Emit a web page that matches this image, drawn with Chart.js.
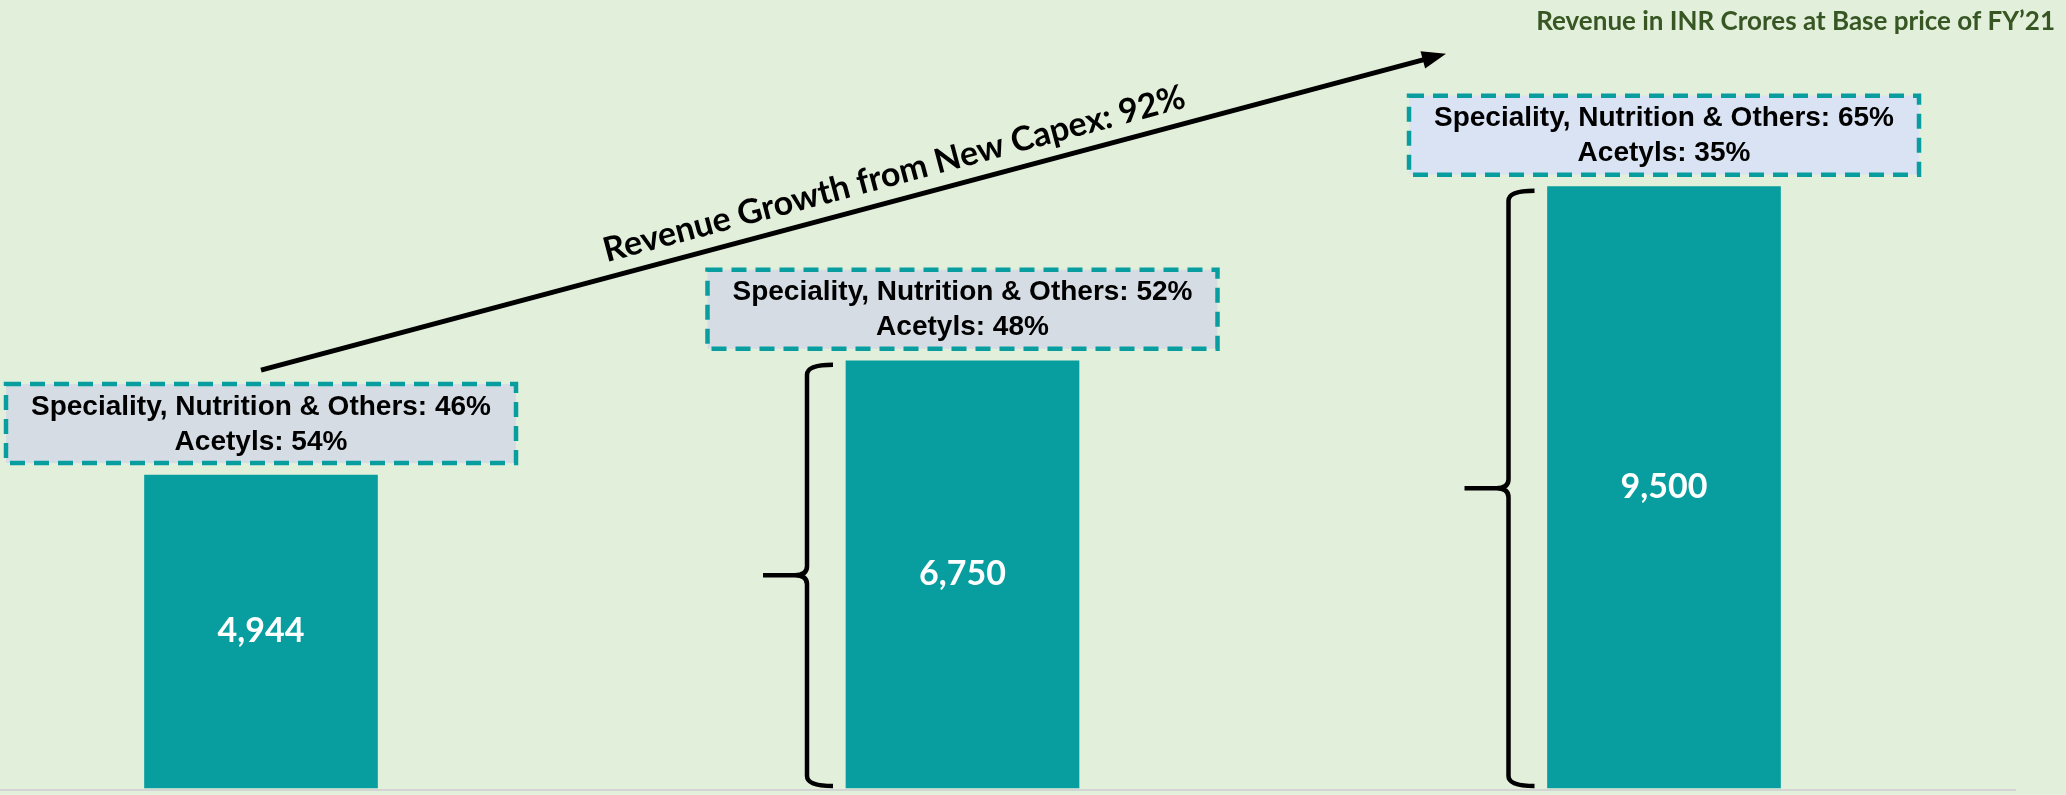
<!DOCTYPE html>
<html>
<head>
<meta charset="utf-8">
<title>Revenue Growth from New Capex</title>
<script src="https://cdn.jsdelivr.net/npm/chart.js@4.4.1/dist/chart.umd.min.js"></script>
<style>
  html, body { margin: 0; padding: 0; background: #E2EFDA; overflow: hidden; }
  #wrap { width: 2066px; height: 795px; position: relative; }
</style>
</head>
<body>
<div id="wrap"><canvas id="revenueChart"></canvas></div>
<script>
// Chart data
const stages = ['Stage 1', 'Stage 2', 'Stage 3'];
const revenue = [4944, 6750, 9500];
const specialityShare = [46, 52, 65];
const acetylsShare = [54, 48, 35];
const yRange = [0, 10000];
const unitNote = 'Revenue in INR Crores at Base price of FY’21';
const growthNote = 'Revenue Growth from New Capex: 92%';

// Styles
const TEAL = '#089E9F';
const BOX_FILLS = ['#D6DCE4', '#D6DCE4', '#DAE3F3'];
const BOX_W = 510, BOX_H = 79, BOX_GAP = 12;

function boxFor(bar) {
    return { x: bar.x - BOX_W / 2, y: bar.y - BOX_GAP - BOX_H, w: BOX_W, h: BOX_H };
}

// Curly brace pointing left, spanning yt..yb
function drawBrace(ctx, x0, yt, yb) {
    const xr = x0 + 26, ym = (yt + yb) / 2, tip = 44;
    ctx.beginPath();
    ctx.moveTo(xr, yt);
    ctx.quadraticCurveTo(x0, yt, x0, yt + 10);
    ctx.lineTo(x0, ym - 9);
    ctx.quadraticCurveTo(x0, ym, x0 - 12, ym);
    ctx.lineTo(x0 - tip, ym);
    ctx.moveTo(x0 - 12, ym);
    ctx.quadraticCurveTo(x0, ym, x0, ym + 9);
    ctx.lineTo(x0, yb - 10);
    ctx.quadraticCurveTo(x0, yb, xr, yb);
    ctx.stroke();
}

const annotations = {
    id: 'annotations',
    beforeDatasetsDraw(chart) {
        const ctx = chart.ctx;
        const bars = chart.getDatasetMeta(0).data;
        ctx.save();
        ctx.strokeStyle = '#D4D4D4';
        ctx.lineWidth = 2;
        ctx.beginPath();
        ctx.moveTo(0, bars[0].base + 2);
        ctx.lineTo(2016, bars[0].base + 2);
        ctx.stroke();
        ctx.restore();
    },
    afterDatasetsDraw(chart) {
        const ctx = chart.ctx;
        const bars = chart.getDatasetMeta(0).data;
        ctx.save();

        bars.forEach((bar, i) => {
            // value inside bar
            ctx.fillStyle = '#FFFFFF';
            ctx.font = 'bold 34px Lato, "Open Sans", sans-serif';
            ctx.textAlign = 'center';
            ctx.textBaseline = 'middle';
            ctx.fillText(revenue[i].toLocaleString('en-US'), bar.x, (bar.y + bar.base) / 2);

            // mix box
            const b = boxFor(bar);
            ctx.fillStyle = BOX_FILLS[i];
            ctx.fillRect(b.x, b.y, b.w, b.h);
            ctx.strokeStyle = TEAL;
            ctx.lineWidth = 4.5;
            ctx.setLineDash([15, 9]);
            ctx.strokeRect(b.x, b.y, b.w, b.h);
            ctx.setLineDash([]);
            ctx.fillStyle = '#000000';
            ctx.font = 'bold 28px "Liberation Sans", Arial, sans-serif';
            ctx.fillText('Speciality, Nutrition & Others: ' + specialityShare[i] + '%', bar.x, b.y + 23);
            ctx.fillText('Acetyls: ' + acetylsShare[i] + '%', bar.x, b.y + 58);

            // braces on the later bars
            if (i > 0) {
                ctx.strokeStyle = '#000000';
                ctx.lineWidth = 4.5;
                drawBrace(ctx, bar.x - bar.width / 2 - 39, bar.y + 4, bar.base - 2);
            }
        });

        // growth arrow from first box to last box
        const b1 = boxFor(bars[0]);
        const b3 = boxFor(bars[bars.length - 1]);
        const sx = b1.x + b1.w / 2, sy = b1.y - 14;
        const ex = b3.x + 37, ey = b3.y - 42;
        const ang = Math.atan2(ey - sy, ex - sx);
        ctx.strokeStyle = '#000000';
        ctx.fillStyle = '#000000';
        ctx.lineWidth = 5;
        ctx.beginPath();
        ctx.moveTo(sx, sy);
        ctx.lineTo(ex - 18 * Math.cos(ang), ey - 18 * Math.sin(ang));
        ctx.stroke();
        ctx.save();
        ctx.translate(ex, ey);
        ctx.rotate(ang);
        ctx.beginPath();
        ctx.moveTo(0, 0);
        ctx.lineTo(-24, -9);
        ctx.lineTo(-24, 9);
        ctx.closePath();
        ctx.fill();
        ctx.restore();

        const t = 0.54;
        ctx.save();
        ctx.translate(sx + (ex - sx) * t, sy + (ey - sy) * t);
        ctx.rotate(ang);
        ctx.font = 'bold 34px Lato, "Open Sans", sans-serif';
        ctx.textAlign = 'center';
        ctx.textBaseline = 'middle';
        ctx.fillText(growthNote, 0, -26);
        ctx.restore();

        // unit note
        ctx.fillStyle = '#375623';
        ctx.font = 'bold 26px Lato, "Open Sans", sans-serif';
        ctx.textAlign = 'right';
        ctx.textBaseline = 'middle';
        ctx.fillText(unitNote, 2055, 22);

        ctx.restore();
    }
};

const ctx = document.getElementById('revenueChart').getContext('2d');
const revenueChart = new Chart(ctx, {
    type: 'bar',
    data: {
        labels: stages,
        datasets: [{
            data: revenue,
            backgroundColor: TEAL,
            borderWidth: 0,
            barThickness: 233,
            clip: false
        }]
    },
    options: {
        responsive: true,
        maintainAspectRatio: false,
        animation: false,
        layout: { padding: { left: 261, right: 402, top: 155, bottom: 7 } },
        plugins: {
            legend: { display: false },
            tooltip: { enabled: false }
        },
        scales: {
            x: { display: false, offset: false, grid: { display: false } },
            y: { display: false, min: yRange[0], max: yRange[1], grid: { display: false } }
        }
    },
    plugins: [annotations]
});
</script>
</body>
</html>
